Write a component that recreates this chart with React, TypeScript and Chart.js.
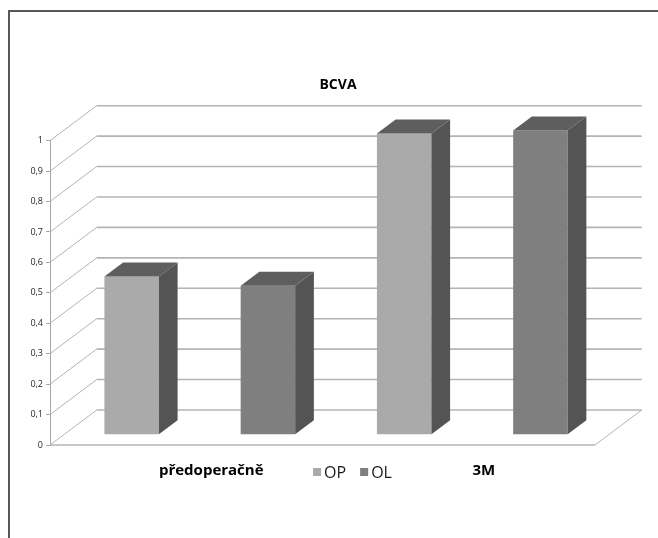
import React, { useEffect, useRef } from 'react';
import { Chart, registerables } from 'chart.js';

Chart.register(...registerables);

// ---- data ----
const chartTitle = 'BCVA';
const categories = ['předoperačně', '3M'];
const seriesNames = ['OP', 'OL'];
const opValues = [0.52, 0.99];
const olValues = [0.49, 1.0];
const seriesColors = ['#aaaaaa', '#7f7f7f'];
const yTickLabels = ['0', '0,1', '0,2', '0,3', '0,4', '0,5', '0,6', '0,7', '0,8', '0,9', '1'];

// ---- 3D look ----
const WALL_DX = 46.7;
const WALL_DY = 35;
const BAR_FRONT = 0.29;
const BAR_BACK = 0.69;
const SIDE_COLOR = '#545454';
const TOP_COLOR = '#5e5e5e';
const GRID_COLOR = '#b4b4b4';

const threeDPlugin = {
  id: 'threeD',
  beforeDatasetsDraw(chart: any) {
    const { ctx, chartArea: a, scales } = chart;
    const y = scales.y;
    ctx.save();
    ctx.strokeStyle = GRID_COLOR;
    y.ticks.forEach((t: any) => {
      const py = y.getPixelForValue(t.value);
      ctx.lineWidth = 1;
      ctx.beginPath();
      ctx.moveTo(a.left, py);
      ctx.lineTo(a.left + WALL_DX, py - WALL_DY);
      ctx.stroke();
      ctx.lineWidth = 1.6;
      ctx.beginPath();
      ctx.moveTo(a.left + WALL_DX, py - WALL_DY);
      ctx.lineTo(a.right + WALL_DX, py - WALL_DY);
      ctx.stroke();
    });
    const p0 = y.getPixelForValue(0);
    ctx.lineWidth = 1.6;
    ctx.beginPath();
    ctx.moveTo(a.left, p0);
    ctx.lineTo(a.right, p0);
    ctx.stroke();
    ctx.lineWidth = 1;
    ctx.beginPath();
    ctx.moveTo(a.right, p0);
    ctx.lineTo(a.right + WALL_DX, p0 - WALL_DY);
    ctx.stroke();
    ctx.restore();
    ctx.save();
    ctx.translate(WALL_DX * BAR_FRONT, -WALL_DY * BAR_FRONT);
  },
  afterDatasetsDraw(chart: any) {
    const { ctx } = chart;
    const ddx = WALL_DX * (BAR_BACK - BAR_FRONT);
    const ddy = -WALL_DY * (BAR_BACK - BAR_FRONT);
    chart.data.datasets.forEach((_d: any, i: number) => {
      const meta = chart.getDatasetMeta(i);
      meta.data.forEach((el: any) => {
        const { x, y, base, width } = el.getProps(['x', 'y', 'base', 'width'], true);
        const l = x - width / 2;
        const r = x + width / 2;
        ctx.fillStyle = SIDE_COLOR;
        ctx.beginPath();
        ctx.moveTo(r, y);
        ctx.lineTo(r + ddx, y + ddy);
        ctx.lineTo(r + ddx, base + ddy);
        ctx.lineTo(r, base);
        ctx.closePath();
        ctx.fill();
        ctx.fillStyle = TOP_COLOR;
        ctx.beginPath();
        ctx.moveTo(l, y);
        ctx.lineTo(l + ddx, y + ddy);
        ctx.lineTo(r + ddx, y + ddy);
        ctx.lineTo(r, y);
        ctx.closePath();
        ctx.fill();
      });
    });
    ctx.restore();
  },
  afterDraw(chart: any) {
    const { ctx } = chart;
    ctx.save();
    // title
    ctx.fillStyle = '#000';
    ctx.font = 'bold 14px "Open Sans"';
    ctx.textAlign = 'center';
    ctx.textBaseline = 'middle';
    ctx.fillText(chartTitle, 338, 85);
    // legend
    ctx.font = '16px "Open Sans"';
    ctx.textAlign = 'left';
    const box = 8;
    const gapBoxText = 3;
    const gapItems = 14;
    const items = chart.data.datasets.map((d: any) => ({
      label: d.label,
      color: d.backgroundColor,
      w: ctx.measureText(d.label).width,
    }));
    const total = items.reduce((s: number, it: any) => s + box + gapBoxText + it.w, 0) + gapItems * (items.length - 1);
    let x = 352.5 - total / 2;
    const cy = 472;
    items.forEach((it: any) => {
      ctx.fillStyle = it.color;
      ctx.fillRect(x, cy - box / 2, box, box);
      x += box + gapBoxText;
      ctx.fillStyle = '#1a1a1a';
      ctx.fillText(it.label, x, cy + 1);
      x += it.w + gapItems;
    });
    ctx.restore();
  },
};

export default function App() {
  const ref = useRef<HTMLCanvasElement>(null);
  useEffect(() => {
    if (!ref.current) return;
    const chart = new Chart(ref.current, {
      type: 'bar',
      data: {
        labels: categories,
        datasets: [
          { label: seriesNames[0], data: opValues, backgroundColor: seriesColors[0], clip: false as any },
          { label: seriesNames[1], data: olValues, backgroundColor: seriesColors[1], clip: false as any },
        ],
      },
      options: {
        animation: false,
        responsive: true,
        maintainAspectRatio: false,
        datasets: { bar: { barPercentage: 0.4, categoryPercentage: 1.0 } },
        layout: { padding: { left: 8, right: 63, top: 140.7, bottom: 43 } },
        plugins: { legend: { display: false }, title: { display: false }, tooltip: { enabled: false } },
        scales: {
          x: {
            type: 'category',
            offset: true,
            grid: { display: false, drawTicks: false },
            border: { display: false },
            ticks: {
              font: { family: 'Open Sans', size: 15, weight: 'bold' },
              color: '#000',
              labelOffset: 25,
              padding: 17,
              maxRotation: 0,
            },
            afterFit: (s: any) => { s.height = 50; },
          },
          y: {
            type: 'linear',
            min: 0,
            max: 1,
            ticks: {
              stepSize: 0.1,
              font: { family: 'Open Sans', size: 9 },
              color: '#262626',
              padding: 3,
              callback: (_v: any, i: number) => yTickLabels[i],
            },
            grid: { drawOnChartArea: false, drawTicks: true, tickLength: 4, color: '#a6a6a6' },
            border: { display: true, color: '#a6a6a6', width: 1 },
            afterFit: (s: any) => { s.width = 42; },
          },
        },
      },
      plugins: [threeDPlugin],
    });
    return () => chart.destroy();
  }, []);
  return (
    <div style={{ position: 'fixed', left: 0, top: 0, width: 658, height: 538, background: '#fff', overflow: 'hidden' }}>
      <div style={{ position: 'absolute', left: 8, top: 10, width: 720, height: 620, borderTop: '2px solid #575757', borderLeft: '2px solid #575757' }} />
      <div style={{ position: 'absolute', left: 0, top: 0, width: 658, height: 538 }}>
        <canvas ref={ref} />
      </div>
    </div>
  );
}
